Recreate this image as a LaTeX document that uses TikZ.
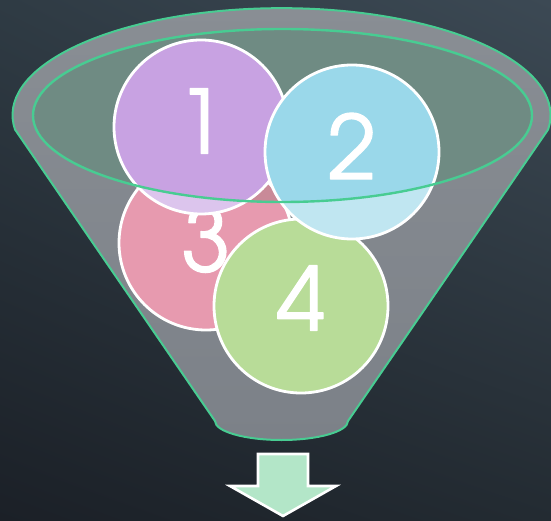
\documentclass[tikz,border=0pt]{standalone}
\usepackage{fontspec}
\usepackage{tikz}
\usetikzlibrary{calc,shadings}
\newfontfamily\digitfont[FakeBold=1.4]{texgyreadventor-regular.otf}
\definecolor{bgul}{RGB}{47,59,68}
\definecolor{bgur}{RGB}{60,73,84}
\definecolor{bgll}{RGB}{27,32,39}
\definecolor{bglr}{RGB}{35,43,50}
\definecolor{funneltop}{RGB}{137,142,148}
\definecolor{funnelbot}{RGB}{124,129,136}
\definecolor{mouth}{RGB}{111,139,131}
\definecolor{rim}{RGB}{72,204,146}
\definecolor{ballone}{RGB}{200,162,226}
\definecolor{balltwo}{RGB}{154,216,234}
\definecolor{ballthree}{RGB}{231,154,175}
\definecolor{ballthreedark}{RGB}{201,138,152}
\definecolor{ballfour}{RGB}{184,220,152}
\definecolor{outflow}{RGB}{179,230,200}

\begin{document}
\begin{tikzpicture}[x=1pt,y=-1pt,line join=round,
  ball/.style={circle,inner sep=0pt,minimum size=174pt,draw=white,line width=2.8pt},
  digit/.style={text=white,font=\digitfont\fontsize{88}{88}\selectfont,inner sep=0pt}]
  \useasboundingbox (0,0) rectangle (551,521);
  \shade[upper left=bgul,upper right=bgur,lower left=bgll,lower right=bglr] (0,0) rectangle (551,521);
  % funnel body
  \coordinate (L) at (15,129.5);
  \coordinate (R) at (348,421);
  \coordinate (M) at (282.5,115.5);
  \shade[top color=funneltop,bottom color=funnelbot]
    (L) arc[start angle=172.3,end angle=367.7,x radius=269,y radius=107]
    -- (R) arc[start angle=0,end angle=180,x radius=66.5,y radius=19] -- cycle;
  \fill[mouth] (M) ellipse[x radius=249.5,y radius=86.5];
  % balls
  \node[ball,fill=ballthree] (c3) at (206,243) {};
  \node[digit] (n3) at ([yshift=4pt]c3.center) {3};
  \begin{scope}
    \clip (M) ellipse[x radius=249.5,y radius=86.5];
    \fill[ballthreedark,draw=white,line width=2.8pt] (c3.center) circle (87);
  \end{scope}
  \node[ball,fill=ballfour] (c4) at (301,306) {};
  \node[digit] (n4) at ([yshift=8pt]c4.center) {4};
  \foreach \name/\col/\pos/\num in {c1/ballone/{(201,127)}/1,c2/balltwo/{(352,152)}/2}{
    \node[ball,fill=\col] (\name) at \pos {};
    \begin{scope}
      \clip (\name.center) circle (87);
      \fill[white,opacity=.38,even odd rule] (-5,-5) rectangle (556,526)
        (M) ellipse[x radius=249.5,y radius=86.5];
    \end{scope}
    \node[digit] at ([yshift=6pt]\name.center) {\num};
  }
  % rims
  \draw[rim,line width=2.4pt] (M) ellipse[x radius=249.5,y radius=86.5];
  \draw[rim,line width=2pt]
    (L) arc[start angle=172.3,end angle=367.7,x radius=269,y radius=107]
    -- (R) arc[start angle=0,end angle=180,x radius=66.5,y radius=19] -- cycle;
  % arrow
  \fill[outflow,draw=white,line width=2.6pt,line join=miter]
    (258,454) -- (308,454) -- (308,486) -- (336,486) -- (283,516)
    -- (230,486) -- (258,486) -- cycle;
\end{tikzpicture}
\end{document}
